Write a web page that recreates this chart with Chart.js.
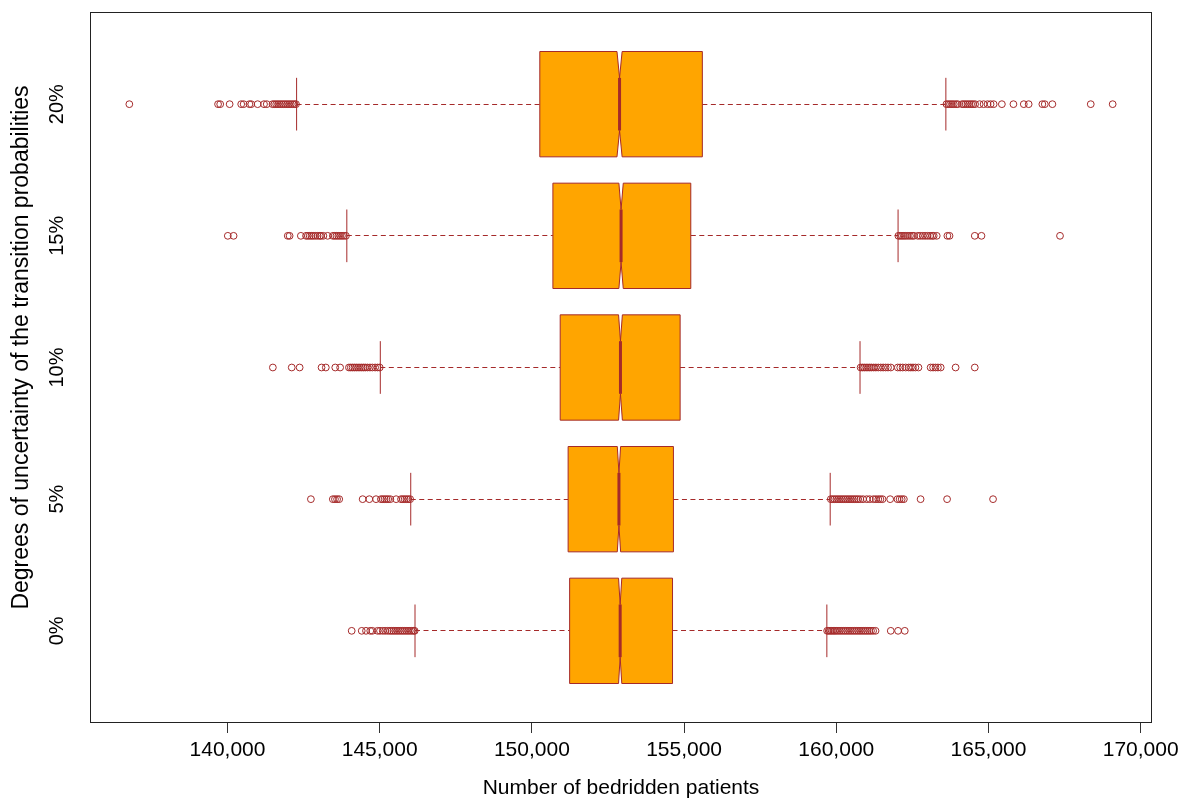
<!DOCTYPE html>
<html>
<head>
<meta charset="utf-8">
<script src="https://cdn.jsdelivr.net/npm/chart.js@4.4.1/dist/chart.umd.min.js"></script>
<style>
  html, body { margin: 0; padding: 0; background: #ffffff; }
  canvas { display: block; }
</style>
</head>
<body>
<canvas id="chart" width="1192" height="800"></canvas>
<script>
// Scenario levels (bottom to top)
const categories = ['0%', '5%', '10%', '15%', '20%'];

// Five-number summaries per scenario
const q1          = [151240, 151190, 150930, 150690, 150260];
const median      = [152900, 152860, 152910, 152930, 152880];
const q3          = [154620, 154650, 154870, 155220, 155600];
const whiskerLow  = [146160, 146020, 145020, 143920, 142270];
const whiskerHigh = [159690, 159800, 160780, 162030, 163600];

// Simulation runs per scenario (used for the notch width)
const sampleSize = 10000;

// Values beyond the whiskers
const outliers0 = [
  144080, 144410, 144550, 144690, 144760, 144930, 145010, 145100, 145180, 145260,
  145330, 145390, 145450, 145510, 145570, 145630, 145690, 145750, 145810, 145870,
  145930, 145990, 146050, 146110, 146150,
  159700, 159750, 159800, 159850, 159900, 159950, 160000, 160060, 160120, 160180,
  160240, 160300, 160360, 160420, 160480, 160540, 160600, 160660, 160720, 160780,
  160840, 160900, 160960, 161020, 161080, 161140, 161210, 161290, 161790, 162030, 162250
];
const outliers5 = [
  142740, 143460, 143530, 143600, 143670, 144440, 144660, 144880, 145040, 145100,
  145160, 145220, 145280, 145350, 145540, 145700, 145760, 145820, 145880, 145940, 146000,
  159820, 159880, 159940, 160000, 160060, 160120, 160180, 160240, 160300, 160360,
  160420, 160480, 160540, 160600, 160660, 160720, 160790, 160880, 161000, 161100,
  161220, 161300, 161380, 161450, 161520, 161770, 162010, 162080, 162150, 162220,
  162770, 163640, 165150
];
const outliers10 = [
  141490, 142110, 142370, 143090, 143230, 143540, 143700, 143990, 144050, 144110,
  144170, 144230, 144290, 144350, 144410, 144470, 144530, 144600, 144680, 144760,
  144850, 144930, 145000,
  160800, 160860, 160920, 160980, 161040, 161100, 161160, 161230, 161300, 161380,
  161460, 161540, 161620, 161700, 161790, 162020, 162100, 162180, 162280, 162380,
  162450, 162520, 162600, 162700, 163100, 163180, 163260, 163340, 163430, 163920, 164550
];
const outliers15 = [
  140010, 140200, 141980, 142040, 142410, 142580, 142640, 142700, 142760, 142820,
  142890, 142960, 143030, 143070, 143150, 143290, 143460, 143520, 143580, 143640,
  143700, 143760, 143820, 143890,
  162040, 162100, 162160, 162220, 162280, 162350, 162420, 162490, 162550, 162680,
  162760, 162840, 162920, 163000, 163080, 163150, 163200, 163300, 163650, 163720,
  164550, 164770, 167350
];
const outliers20 = [
  136775, 139690, 139760, 140070, 140450, 140530, 140720, 140780, 140990, 141200,
  141290, 141480, 141540, 141600, 141660, 141720, 141780, 141840, 141900, 141960,
  142020, 142080, 142140, 142200, 142250,
  163620, 163680, 163740, 163800, 163860, 163930, 163990, 164130, 164190, 164250,
  164310, 164370, 164430, 164490, 164560, 164710, 164840, 164970, 165070, 165170,
  165440, 165820, 166160, 166320, 166770, 166850, 167100, 168360, 169080
];

// Axis tick positions
const xTicks = [140000, 145000, 150000, 155000, 160000, 165000, 170000];

const yTitle = 'Degrees of uncertainty of the transition probabilities';

const FONT = "'Liberation Sans', Arial, Helvetica, sans-serif";
const EDGE = '#A52A2A';
const FILL = '#FFA500';

const outlierSets = [outliers0, outliers5, outliers10, outliers15, outliers20];
const outlierPoints = [];
outlierSets.forEach((set, i) => set.forEach(v => outlierPoints.push({ x: v, y: i + 1 })));

// Axis limits: data extent widened by 4% on each side
const allValues = [].concat(...outlierSets, whiskerLow, whiskerHigh);
const dataMin = Math.min(...allValues);
const dataMax = Math.max(...allValues);
const span = dataMax - dataMin;

const fmtThousands = v => String(Math.round(v)).replace(/\B(?=(\d{3})+(?!\d))/g, ',');

// Notched boxes, dashed whiskers and staples, plot frame and vertical axis title
const notchedBoxes = {
  id: 'notchedBoxes',
  beforeDatasetsDraw(chart) {
    const { ctx, chartArea, scales: { x, y } } = chart;
    const px = v => x.getPixelForValue(v);
    ctx.save();
    ctx.beginPath();
    ctx.rect(chartArea.left, chartArea.top, chartArea.width, chartArea.height);
    ctx.clip();
    categories.forEach((label, i) => {
      const pos = i + 1;
      const yc = Math.floor(y.getPixelForValue(pos)) + 0.5;
      const yTop = y.getPixelForValue(pos + 0.4);
      const yBot = y.getPixelForValue(pos - 0.4);
      const yTopHalf = y.getPixelForValue(pos + 0.2);
      const yBotHalf = y.getPixelForValue(pos - 0.2);
      const notch = 1.58 * (q3[i] - q1[i]) / Math.sqrt(sampleSize);

      ctx.strokeStyle = EDGE;
      ctx.lineWidth = 1;

      // whiskers
      ctx.setLineDash([5, 3.5]);
      ctx.beginPath();
      ctx.moveTo(px(whiskerLow[i]), yc);
      ctx.lineTo(px(q1[i]), yc);
      ctx.moveTo(px(q3[i]), yc);
      ctx.lineTo(px(whiskerHigh[i]), yc);
      ctx.stroke();
      ctx.setLineDash([]);

      // staples
      ctx.beginPath();
      ctx.moveTo(px(whiskerLow[i]), yTopHalf);
      ctx.lineTo(px(whiskerLow[i]), yBotHalf);
      ctx.moveTo(px(whiskerHigh[i]), yTopHalf);
      ctx.lineTo(px(whiskerHigh[i]), yBotHalf);
      ctx.stroke();

      // box with notch around the median
      ctx.beginPath();
      ctx.moveTo(px(q1[i]), yTop);
      ctx.lineTo(px(median[i] - notch), yTop);
      ctx.lineTo(px(median[i]), yTopHalf);
      ctx.lineTo(px(median[i] + notch), yTop);
      ctx.lineTo(px(q3[i]), yTop);
      ctx.lineTo(px(q3[i]), yBot);
      ctx.lineTo(px(median[i] + notch), yBot);
      ctx.lineTo(px(median[i]), yBotHalf);
      ctx.lineTo(px(median[i] - notch), yBot);
      ctx.lineTo(px(q1[i]), yBot);
      ctx.closePath();
      ctx.fillStyle = FILL;
      ctx.fill();
      ctx.stroke();

      // median bar
      ctx.lineWidth = 3;
      ctx.beginPath();
      ctx.moveTo(px(median[i]), yTopHalf);
      ctx.lineTo(px(median[i]), yBotHalf);
      ctx.stroke();
    });
    ctx.restore();
  },
  afterDraw(chart) {
    const { ctx, chartArea } = chart;
    ctx.save();
    ctx.strokeStyle = '#222';
    ctx.lineWidth = 1;
    ctx.strokeRect(Math.round(chartArea.left) + 0.5, Math.round(chartArea.top) + 0.5,
      Math.round(chartArea.width) - 1, Math.round(chartArea.height) - 1);

    // vertical axis title
    ctx.translate(22, (chartArea.top + chartArea.bottom) / 2 - 20);
    ctx.rotate(-Math.PI / 2);
    ctx.fillStyle = '#000';
    ctx.font = "23px " + FONT;
    ctx.textAlign = 'center';
    ctx.textBaseline = 'middle';
    ctx.fillText(yTitle, 0, 0);
    ctx.restore();
  }
};

new Chart(document.getElementById('chart'), {
  type: 'scatter',
  data: {
    datasets: [{
      label: 'Outliers',
      data: outlierPoints,
      pointStyle: 'circle',
      pointRadius: 3.4,
      pointHoverRadius: 3.4,
      borderWidth: 1,
      borderColor: EDGE,
      backgroundColor: 'rgba(0,0,0,0)'
    }]
  },
  options: {
    responsive: false,
    animation: false,
    devicePixelRatio: 1,
    layout: { padding: { top: 12, right: 40, bottom: 0, left: 0 } },
    plugins: { legend: { display: false }, tooltip: { enabled: false } },
    events: [],
    scales: {
      x: {
        type: 'linear',
        min: dataMin - 0.04 * span,
        max: dataMax + 0.04 * span,
        afterBuildTicks: s => { s.ticks = xTicks.map(v => ({ value: v })); },
        afterFit: s => { s.height = 77; s.paddingLeft = 0; s.paddingRight = 0; },
        grid: { display: true, drawOnChartArea: false, drawTicks: true, tickLength: 10, color: '#333', lineWidth: 1 },
        border: { display: false },
        ticks: {
          autoSkip: false, maxRotation: 0, minRotation: 0, padding: 5,
          color: '#000', font: { family: FONT, size: 21 },
          callback: v => fmtThousands(v)
        },
        title: {
          display: true, text: 'Number of bedridden patients', color: '#000',
          font: { family: FONT, size: 21, lineHeight: 1 }, padding: { top: 0, bottom: 1 }
        }
      },
      y: {
        type: 'linear',
        min: 0.3,
        max: 5.7,
        afterBuildTicks: s => { s.ticks = categories.map((c, i) => ({ value: i + 1 })); },
        afterFit: s => { s.width = 90; s.paddingTop = 0; s.paddingBottom = 0; },
        grid: { display: false, drawTicks: false },
        border: { display: false },
        ticks: {
          autoSkip: false, minRotation: 90, maxRotation: 90, crossAlign: 'center', padding: 13,
          color: '#000', font: { family: FONT, size: 20 },
          callback: (v, idx) => categories[idx]
        }
      }
    }
  },
  plugins: [notchedBoxes]
});
</script>
</body>
</html>
